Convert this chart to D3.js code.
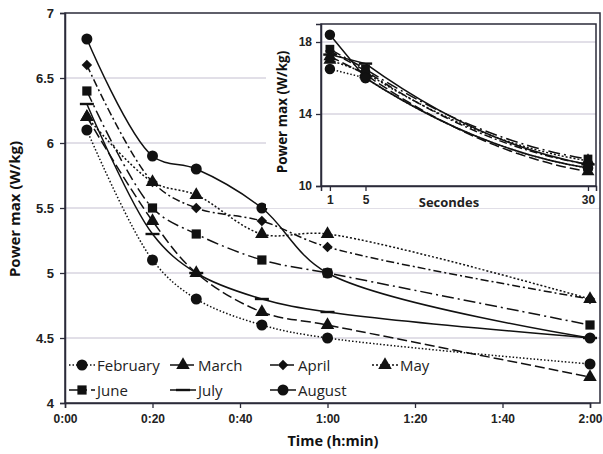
<!DOCTYPE html>
<html>
<head>
<meta charset="utf-8">
<script src="https://cdn.jsdelivr.net/npm/d3@7"></script>
<style>
  body { margin: 0; background: #fff; }
  svg { display: block; font-family: "Open Sans", "Liberation Sans", sans-serif; }
</style>
</head>
<body>
<svg id="chart" width="603" height="454"></svg>
<script>
// ---- data ----
let months = ["February", "March", "April", "May", "June", "July", "August"];
let timesMin = [5, 20, 30, 45, 60, 120];         // 0:05 .. 2:00
let feb = [6.1, 5.1, 4.8, 4.6, 4.5, 4.3];
let mar = [6.2, 5.4, 5.0, 4.7, 4.6, 4.2];
let apr = [6.6, 5.7, 5.5, 5.4, 5.2, 4.8];
let may = [6.2, 5.7, 5.6, 5.3, 5.3, 4.8];
let jun = [6.4, 5.5, 5.3, 5.1, 5.0, 4.6];
let jul = [6.3, 5.3, 5.0, 4.8, 4.7, 4.5];
let aug = [6.8, 5.9, 5.8, 5.5, 5.0, 4.5];

let seconds = [1, 5, 30];
let febS = [16.5, 16.0, 11.0];
let marS = [17.2, 16.2, 10.8];
let aprS = [17.5, 16.4, 11.2];
let mayS = [17.0, 16.3, 11.4];
let junS = [17.6, 16.5, 11.5];
let julS = [17.3, 16.8, 11.2];
let augS = [18.4, 16.0, 11.0];

let yTicks = [4, 4.5, 5, 5.5, 6, 6.5, 7];
let xTicks = [0, 20, 40, 60, 80, 100, 120];
let insetYTicks = [10, 14, 18];

let mainValues = [feb, mar, apr, may, jun, jul, aug];
let insetValues = [febS, marS, aprS, mayS, junS, julS, augS];

// styles per month: marker shape + dash pattern
let markers = ["circle", "triangle", "diamond", "triangle", "square", "dash", "circle"];
let dashes = ["1.5,2", "10,4", "8,3,2,3", "2,2", "12,4,2,4", null, null];

const ink = "#111";
const axisCol = "#2b2b3a";
const gridCol = "#c4bfd0";

let svg = d3.select("#chart");

// ---- main chart ----
let x = d3.scaleLinear().domain([0, 120]).range([65, 590]);
let y = d3.scaleLinear().domain([4, 7]).range([403, 13]);

function fmtTime(m) {
  let h = Math.floor(m / 60), mm = m % 60;
  return h + ":" + (mm < 10 ? "0" : "") + mm;
}

// grid
svg.append("g").selectAll("line")
  .data(yTicks.filter(d => d > 4 && d < 7))
  .join("line")
  .attr("x1", x(0)).attr("x2", x(120) + 10)
  .attr("y1", d => y(d)).attr("y2", d => y(d))
  .attr("stroke", gridCol).attr("stroke-width", 1);

function symbolPath(kind, size) {
  let t = { circle: d3.symbolCircle, triangle: d3.symbolTriangle, diamond: d3.symbolSquare, square: d3.symbolSquare }[kind];
  return d3.symbol(t, size)();
}

function drawMarker(g, kind, cx, cy, s) {
  if (kind === "dash") {
    g.append("rect").attr("x", cx - 7 * s).attr("y", cy - 1.2).attr("width", 14 * s).attr("height", 2.4).attr("fill", ink);
  } else {
    let size = { circle: 95, triangle: 80, diamond: 55, square: 85 }[kind] * s * s;
    let rot = kind === "diamond" ? " rotate(45)" : "";
    g.append("path").attr("d", symbolPath(kind, size))
      .attr("transform", `translate(${cx},${cy})${rot}`).attr("fill", ink);
  }
}

let curve = d3.curveCatmullRom.alpha(0.5);

let mainLine = d3.line().curve(curve).x((d, i) => x(timesMin[i])).y(d => y(d));
let seriesG = svg.append("g");
mainValues.forEach((vals, k) => {
  seriesG.append("path").attr("d", mainLine(vals))
    .attr("fill", "none").attr("stroke", ink).attr("stroke-width", 1.5)
    .attr("stroke-dasharray", dashes[k]);
});
mainValues.forEach((vals, k) => {
  vals.forEach((v, i) => drawMarker(seriesG, markers[k], x(timesMin[i]), y(v), 1));
});

// frame
svg.append("rect").attr("x", x(0)).attr("y", y(7))
  .attr("width", x(120) + 10 - x(0)).attr("height", y(4) - y(7))
  .attr("fill", "none").attr("stroke", axisCol).attr("stroke-width", 1.5);

// axes
let yAxis = svg.append("g").attr("transform", `translate(${x(0)},0)`)
  .call(d3.axisLeft(y).tickValues(yTicks).tickFormat(d3.format("")).tickSize(5).tickPadding(6));
let xAxis = svg.append("g").attr("transform", `translate(0,${y(4)})`)
  .call(d3.axisBottom(x).tickValues(xTicks).tickFormat(fmtTime).tickSize(5).tickPadding(6));
[yAxis, xAxis].forEach(a => {
  a.select(".domain").attr("stroke", axisCol).attr("stroke-width", 1.5);
  a.selectAll(".tick line").attr("stroke", axisCol).attr("stroke-width", 1.3);
  a.selectAll("text").attr("fill", "#222").attr("font-size", 12).attr("font-weight", 600);
});
yAxis.selectAll("text").attr("font-size", 13);

svg.append("text").attr("transform", `translate(20,209) rotate(-90)`)
  .attr("text-anchor", "middle").attr("font-size", 15).attr("font-weight", 700).attr("fill", "#111")
  .text("Power max (W/kg)");
svg.append("text").attr("x", 333).attr("y", 446)
  .attr("text-anchor", "middle").attr("font-size", 14.5).attr("font-weight", 700).attr("fill", "#111")
  .text("Time (h:min)");

// legend
let legendPos = [[82, 365], [183, 365], [283, 365], [385, 365], [82, 390], [183, 390], [283, 390]];
let legend = svg.append("g");
months.forEach((m, k) => {
  let [lx, ly] = legendPos[k];
  legend.append("line").attr("x1", lx - 13).attr("x2", lx + 13).attr("y1", ly).attr("y2", ly)
    .attr("stroke", ink).attr("stroke-width", 1.5).attr("stroke-dasharray", dashes[k]);
  drawMarker(legend, markers[k], lx, ly, 1);
  legend.append("text").attr("x", lx + 15).attr("y", ly + 5.5)
    .attr("font-size", 15).attr("fill", "#222").text(m);
});

// ---- inset ----
let ix = d3.scaleLinear().domain([0, 30.9]).range([321, 596]);
let iy = d3.scaleLinear().domain([10, 19]).range([186, 24]);

let inset = svg.append("g");
inset.append("rect").attr("x", 266).attr("y", 15).attr("width", 333).attr("height", 193).attr("fill", "#fff");

inset.append("g").selectAll("line")
  .data(insetYTicks.filter(d => d > 10))
  .join("line")
  .attr("x1", ix(0)).attr("x2", ix(30.9))
  .attr("y1", d => iy(d)).attr("y2", d => iy(d))
  .attr("stroke", gridCol).attr("stroke-width", 1);

// the decay after 5 s is drawn as a cubic that starts steep and flattens towards 30 s
function insetPath(vals) {
  let p = d3.path();
  let pts = vals.map((v, i) => [ix(seconds[i]), iy(v)]);
  p.moveTo(pts[0][0], pts[0][1]);
  p.lineTo(pts[1][0], pts[1][1]);
  let dx = pts[2][0] - pts[1][0], dy = pts[2][1] - pts[1][1];
  p.bezierCurveTo(pts[1][0] + dx / 3, pts[1][1] + 0.53 * dy,
                  pts[2][0] - dx / 3, pts[2][1] - 0.13 * dy,
                  pts[2][0], pts[2][1]);
  return p.toString();
}

insetValues.forEach((vals, k) => {
  inset.append("path").attr("d", insetPath(vals))
    .attr("fill", "none").attr("stroke", ink).attr("stroke-width", 1.5)
    .attr("stroke-dasharray", dashes[k]);
});
insetValues.forEach((vals, k) => {
  vals.forEach((v, i) => drawMarker(inset, markers[k], ix(seconds[i]), iy(v), 0.95));
});

inset.append("rect").attr("x", ix(0)).attr("y", iy(19))
  .attr("width", ix(30.9) - ix(0)).attr("height", iy(10) - iy(19))
  .attr("fill", "none").attr("stroke", axisCol).attr("stroke-width", 1.5);

let iyAxis = inset.append("g").attr("transform", `translate(${ix(0)},0)`)
  .call(d3.axisLeft(iy).tickValues(insetYTicks).tickSize(5).tickPadding(4));
let ixAxis = inset.append("g").attr("transform", `translate(0,${iy(10)})`)
  .call(d3.axisBottom(ix).tickValues(seconds).tickSize(5).tickPadding(4));
[iyAxis, ixAxis].forEach(a => {
  a.select(".domain").attr("stroke", axisCol).attr("stroke-width", 1.5);
  a.selectAll(".tick line").attr("stroke", axisCol).attr("stroke-width", 1.3);
  a.selectAll("text").attr("fill", "#222").attr("font-size", 12).attr("font-weight", 600);
});

inset.append("text").attr("transform", `translate(287,112) rotate(-90)`)
  .attr("text-anchor", "middle").attr("font-size", 13.5).attr("font-weight", 700).attr("fill", "#111")
  .text("Power max (W/kg)");
inset.append("text").attr("x", 449).attr("y", 207)
  .attr("text-anchor", "middle").attr("font-size", 13).attr("font-weight", 700).attr("fill", "#222")
  .text("Secondes");
</script>
</body>
</html>
